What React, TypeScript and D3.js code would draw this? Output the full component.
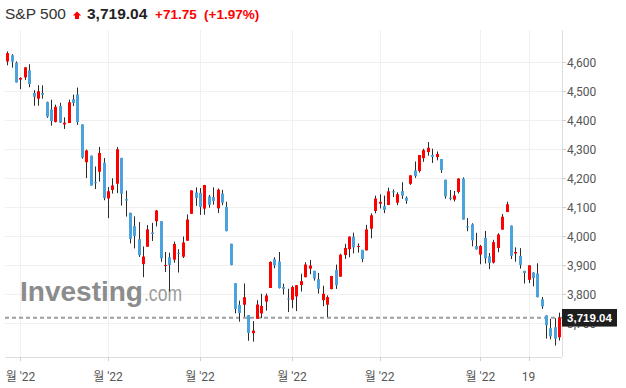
import React from "react";
import * as d3 from "d3";

const dates = [
  "2022-03-29","2022-03-30","2022-03-31",
  "2022-04-01","2022-04-04","2022-04-05","2022-04-06","2022-04-07","2022-04-08","2022-04-11","2022-04-12","2022-04-13","2022-04-14","2022-04-18","2022-04-19","2022-04-20","2022-04-21","2022-04-22","2022-04-25","2022-04-26","2022-04-27","2022-04-28","2022-04-29",
  "2022-05-02","2022-05-03","2022-05-04","2022-05-05","2022-05-06","2022-05-09","2022-05-10","2022-05-11","2022-05-12","2022-05-13","2022-05-16","2022-05-17","2022-05-18","2022-05-19","2022-05-20","2022-05-23","2022-05-24","2022-05-25","2022-05-26","2022-05-27","2022-05-31",
  "2022-06-01","2022-06-02","2022-06-03","2022-06-06","2022-06-07","2022-06-08","2022-06-09","2022-06-10","2022-06-13","2022-06-14","2022-06-15","2022-06-16","2022-06-17","2022-06-21","2022-06-22","2022-06-23","2022-06-24","2022-06-27","2022-06-28","2022-06-29","2022-06-30",
  "2022-07-01","2022-07-05","2022-07-06","2022-07-07","2022-07-08","2022-07-11","2022-07-12","2022-07-13","2022-07-14","2022-07-15","2022-07-18","2022-07-19","2022-07-20","2022-07-21","2022-07-22","2022-07-25","2022-07-26","2022-07-27","2022-07-28","2022-07-29",
  "2022-08-01","2022-08-02","2022-08-03","2022-08-04","2022-08-05","2022-08-08","2022-08-09","2022-08-10","2022-08-11","2022-08-12","2022-08-15","2022-08-16","2022-08-17","2022-08-18","2022-08-19","2022-08-22","2022-08-23","2022-08-24","2022-08-25","2022-08-26","2022-08-29","2022-08-30","2022-08-31",
  "2022-09-01","2022-09-02","2022-09-06","2022-09-07","2022-09-08","2022-09-09","2022-09-12","2022-09-13","2022-09-14","2022-09-15","2022-09-16","2022-09-19","2022-09-20","2022-09-21","2022-09-22","2022-09-23","2022-09-26","2022-09-27","2022-09-28",
];

const opens = [
  4602.86,4624.2,4599.02,
  4540.32,4547.97,4572.45,4494.17,4474.65,4494.15,4462.64,4437.59,4394.3,4449.12,4385.63,4390.63,4472.26,4489.17,4385.83,4255.34,4278.14,4186.52,4222.58,4253.75,
  4130.61,4159.78,4181.18,4270.43,4128.17,4081.27,4035.18,3990.08,3903.95,3963.9,4013.02,4052.0,4051.98,3899.0,3927.76,3919.42,3942.94,3929.59,3984.6,4077.43,4151.09,
  4149.78,4095.41,4137.57,4134.72,4096.47,4147.12,4101.65,3974.39,3838.15,3763.52,3764.05,3728.18,3665.9,3715.31,3733.89,3774.71,3821.75,3920.76,3913.0,3825.09,3785.99,
  3781.0,3792.61,3831.98,3858.85,3888.26,3880.94,3851.95,3779.67,3763.99,3818.0,3883.79,3860.73,3935.32,3955.47,3998.43,3965.72,3953.22,3951.43,4026.13,4087.33,
  4112.38,4104.21,4107.96,4154.85,4115.87,4155.93,4133.11,4181.02,4227.4,4225.02,4269.37,4290.46,4280.4,4273.13,4266.31,4195.08,4133.09,4126.55,4153.26,4198.74,4034.58,4041.25,3966.0,
  3936.73,3994.66,3930.89,3909.43,3959.94,4022.94,4083.67,4037.12,3940.73,3932.41,3880.95,3849.91,3875.23,3871.4,3782.36,3727.14,3682.72,3686.44,3651.94,
];

const highs = [
  4637.3,4627.77,4603.07,
  4548.7,4583.5,4593.45,4503.94,4521.16,4520.58,4464.35,4471.0,4453.92,4460.46,4410.31,4471.03,4488.29,4512.94,4385.83,4299.02,4278.14,4240.71,4308.45,4269.68,
  4169.81,4200.1,4307.66,4270.43,4157.69,4081.27,4068.82,4049.09,3964.8,4038.88,4046.46,4090.72,4051.98,3945.96,3943.42,3981.88,3955.68,3999.33,4075.14,4158.49,4168.34,
  4166.54,4177.51,4142.67,4168.78,4164.86,4160.14,4119.1,3974.39,3838.15,3778.18,3837.56,3728.18,3707.71,3779.65,3801.79,3802.58,3913.65,3927.72,3945.86,3836.5,3818.99,
  3829.82,3832.19,3870.91,3910.63,3918.5,3880.94,3873.41,3829.44,3796.41,3863.62,3902.44,3939.81,3974.13,3999.29,4012.44,3975.3,3953.22,4039.56,4078.95,4140.15,
  4144.95,4140.47,4167.66,4161.29,4151.58,4186.62,4137.3,4211.03,4257.91,4280.47,4301.79,4325.28,4302.18,4292.53,4266.31,4195.08,4159.77,4156.56,4200.54,4203.04,4062.99,4044.98,4012.0,
  3970.23,4018.43,3942.55,3987.89,4010.5,4076.81,4119.28,4037.12,3961.94,3959.14,3880.95,3900.45,3876.01,3907.07,3790.8,3727.14,3715.67,3717.53,3736.74,
];

const lows = [
  4589.66,4581.32,4530.41,
  4507.57,4539.21,4514.17,4450.04,4450.3,4474.6,4408.38,4381.34,4392.7,4390.77,4370.3,4390.63,4448.76,4384.47,4267.62,4200.82,4175.04,4162.9,4188.63,4124.28,
  4062.51,4147.08,4148.91,4106.01,4067.91,3975.48,3958.17,3928.82,3858.87,3963.9,3983.99,4033.93,3911.91,3876.58,3810.32,3909.04,3875.13,3925.03,3984.6,4077.43,4104.88,
  4073.85,4074.37,4098.67,4109.18,4080.19,4107.2,4017.17,3900.16,3734.3,3705.68,3722.3,3639.77,3636.87,3715.31,3717.69,3743.52,3821.75,3889.66,3820.14,3799.02,3738.67,
  3752.1,3742.06,3809.37,3858.85,3869.34,3847.22,3802.36,3759.07,3721.56,3817.18,3818.63,3860.73,3922.03,3927.64,3941.0,3943.46,3910.74,3951.43,3992.97,4079.22,
  4096.02,4079.81,4107.96,4135.42,4107.31,4128.97,4112.09,4177.26,4201.41,4219.78,4256.9,4277.77,4253.08,4261.98,4218.7,4129.86,4124.03,4119.97,4147.59,4057.66,4017.42,3965.21,3954.0,
  3903.65,3906.21,3886.75,3906.03,3944.81,4022.94,4083.67,3921.73,3912.32,3888.28,3837.08,3838.5,3827.54,3789.49,3749.45,3647.47,3644.76,3623.29,3640.61,
];

const closes = [
  4631.6,4602.45,4530.41,
  4545.86,4582.64,4525.12,4481.15,4500.21,4488.28,4412.53,4397.45,4446.59,4392.59,4391.69,4462.21,4459.45,4393.66,4271.78,4296.12,4175.2,4183.96,4287.5,4131.93,
  4155.38,4175.48,4300.17,4146.87,4123.34,3991.24,4001.05,3935.18,3930.08,4023.89,4008.01,4088.85,3923.68,3900.79,3901.36,3973.75,3941.48,3978.73,4057.84,4158.24,4132.15,
  4101.23,4176.82,4108.54,4121.43,4160.68,4115.77,4017.82,3900.86,3749.63,3735.48,3789.99,3666.77,3674.84,3764.79,3759.89,3795.73,3911.74,3900.11,3821.55,3818.83,3785.38,
  3825.33,3831.39,3845.08,3902.62,3899.38,3854.43,3818.8,3801.78,3790.38,3863.16,3830.85,3936.69,3959.9,3998.95,3961.63,3966.84,3921.05,4023.61,4072.43,4130.29,
  4118.63,4091.19,4155.17,4151.94,4145.19,4140.06,4122.47,4210.24,4207.27,4280.15,4297.14,4305.2,4274.04,4283.74,4228.48,4137.99,4128.73,4140.77,4199.12,4057.66,4030.61,3986.16,3955.0,
  3966.85,3924.26,3908.19,3979.87,4006.18,4067.36,4110.41,3932.69,3946.01,3901.35,3873.33,3899.89,3855.93,3789.93,3757.99,3693.23,3655.04,3647.29,3719.04,
];

const xTickDates = ["2022-04-01","2022-05-02","2022-06-01","2022-07-01","2022-08-01","2022-09-01","2022-09-19"];
const xTickLabels = ["월 '22","월 '22","월 '22","월 '22","월 '22","월 '22","19"];
const yTicks = [3700, 3800, 3900, 4000, 4100, 4200, 4300, 4400, 4500, 4600];

const lastPrice = 3719.04;
const titleName = "S&P 500";
const titlePrice = "3,719.04";
const titleChange = "+71.75";
const titlePct = "(+1.97%)";

const W = 626;
const H = 388;
const plotLeft = 5;
const plotRight = 562;
const plotTop = 30;
const plotBottom = 357;

const UP = "#ff0000";
const DOWN = "#4ba3dd";

export default function App() {
  const x = d3.scalePoint<string>().domain(dates).range([7.3, 559.2]);
  const y = d3.scaleLinear().domain([3800, 4600]).range([294.3, 62.3]);
  const fmt = d3.format(",");
  const fmt2 = d3.format(",.2f");

  return (
    <div style={{ position: "fixed", left: 0, top: 0, width: W, height: H, background: "#fff" }}>
      <svg width={W} height={H} style={{ display: "block" }}>
        <rect x={0} y={0} width={W} height={H} fill="#fff" />
        {/* header */}
        <text x={5} y={18.5} fontFamily="Arial, 'Liberation Sans', sans-serif" fontSize={15.5} fill="#333">{titleName}</text>
        <path d="M72.8,15.4 L77,11.4 L81.2,15.4 L79,15.4 L79,19 L75,19 L75,15.4 Z" fill={UP} />
        <text x={87} y={18.5} fontFamily="Arial, 'Liberation Sans', sans-serif" fontSize={15.5} fontWeight="bold" fill="#222">{titlePrice}</text>
        <text x={155} y={18.5} fontFamily="Arial, 'Liberation Sans', sans-serif" fontSize={13.5} fontWeight="bold" fill={UP}>{titleChange}</text>
        <text x={204} y={18.5} fontFamily="Arial, 'Liberation Sans', sans-serif" fontSize={13.5} fontWeight="bold" fill={UP}>{titlePct}</text>

        {/* grid */}
        {yTicks.map((t) => (
          <line key={"gy" + t} x1={plotLeft} x2={plotRight} y1={Math.round(y(t)) + 0.5} y2={Math.round(y(t)) + 0.5} stroke="#f0f0f0" />
        ))}
        {xTickDates.map((d) => (
          <line key={"gx" + d} x1={Math.round(x(d)!) + 0.5} x2={Math.round(x(d)!) + 0.5} y1={plotTop} y2={plotBottom} stroke="#f0f0f0" />
        ))}

        {/* watermark */}
        <text x={20} y={301} fontFamily="Arial, 'Liberation Sans', sans-serif" fontSize={28} fontWeight="bold" fill="#8c8c8c" textLength={123} lengthAdjust="spacingAndGlyphs">Investing</text>
        <text x={144} y={301} fontFamily="Arial, 'Liberation Sans', sans-serif" fontSize={22} fill="#9c9c9c" textLength={38} lengthAdjust="spacingAndGlyphs">.com</text>

        {/* last price dashed line */}
        <line x1={plotLeft} x2={plotRight} y1={y(lastPrice)} y2={y(lastPrice)} stroke="#9e9e9e" strokeWidth={2} strokeDasharray="4,3" />

        {/* candles */}
        {dates.map((d, i) => {
          const cx = Math.round(x(d)!);
          const o = opens[i];
          const c = closes[i];
          const up = c >= o;
          const top = y(Math.max(o, c));
          const bot = y(Math.min(o, c));
          return (
            <g key={d}>
              <line x1={cx + 0.5} x2={cx + 0.5} y1={y(highs[i])} y2={y(lows[i])} stroke="#2b2b2b" strokeWidth={1} />
              <rect x={cx - 1} y={top} width={3} height={Math.max(1, bot - top)} fill={up ? UP : DOWN} />
            </g>
          );
        })}

        {/* axes */}
        <line x1={plotRight + 0.5} x2={plotRight + 0.5} y1={plotTop} y2={plotBottom} stroke="#dedede" />
        <line x1={plotLeft} x2={plotRight} y1={plotBottom + 0.5} y2={plotBottom + 0.5} stroke="#dedede" />
        {yTicks.map((t) => (
          <g key={"ty" + t}>
            <line x1={plotRight} x2={plotRight + 4} y1={Math.round(y(t)) + 0.5} y2={Math.round(y(t)) + 0.5} stroke="#cfcfcf" />
            <text x={567} y={y(t)} dy="0.35em" fontFamily="Roboto, Arial, sans-serif" fontSize={12} fill="#555">{fmt(t)}</text>
          </g>
        ))}
        {xTickDates.map((d, i) => (
          <g key={"tx" + d}>
            <line x1={Math.round(x(d)!) + 0.5} x2={Math.round(x(d)!) + 0.5} y1={plotBottom} y2={plotBottom + 4} stroke="#cfcfcf" />
            <text x={x(d)!} y={381} textAnchor="middle" fontFamily="Roboto, 'Noto Sans CJK KR', sans-serif" fontSize={12} fill="#555">{xTickLabels[i]}</text>
          </g>
        ))}

        {/* last price badge */}
        <rect x={562} y={y(lastPrice) - 8.8} width={55} height={17.6} fill="#1e1e1e" />
        <text x={589.5} y={y(lastPrice)} dy="0.36em" textAnchor="middle" fontFamily="Arial, 'Liberation Sans', sans-serif" fontSize={11.5} fontWeight="bold" fill="#fff">{fmt2(lastPrice)}</text>
      </svg>
    </div>
  );
}
